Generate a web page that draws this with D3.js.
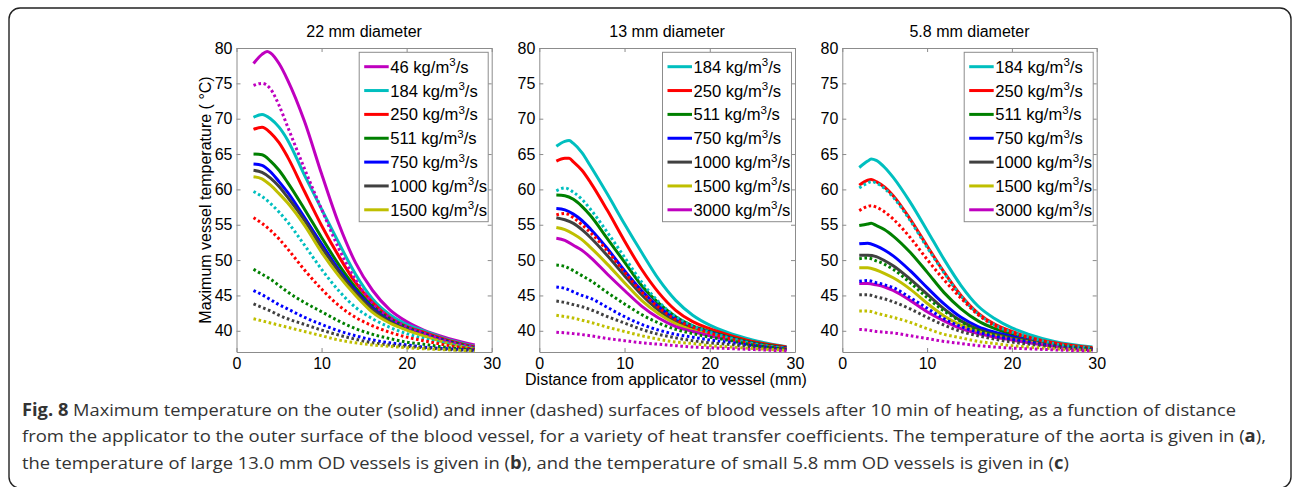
<!DOCTYPE html>
<html><head><meta charset="utf-8">
<script src="https://cdn.jsdelivr.net/npm/d3@7"></script>
<style>
body{margin:0;background:#fff}
svg{display:block}
</style>
</head><body>
<svg id="chart" width="1292" height="487"></svg>
<script>
// ---------- data ----------
const xTicks = [0, 10, 20, 30];
const yTicks = [40, 45, 50, 55, 60, 65, 70, 75, 80];
const panelTitles = ["22 mm diameter", "13 mm diameter", "5.8 mm diameter"];
const xLabel = "Distance from applicator to vessel (mm)";
const yLabel = "Maximum vessel temperature ( °C)";
const rates1 = ["46", "184", "250", "511", "750", "1000", "1500"];
const rates23 = ["184", "250", "511", "750", "1000", "1500", "3000"];

// Panel a (22 mm): outer surface (solid), order as rates1
const p1Outer = [
  [[2,77.8],[3,79.1],[3.6,79.5],[4,79.3],[5,77.8],[6,75.5],[8,69.6],[10,62.2],[12,55.2],[14,49.6],[16,45.7],[18,43.0],[20,41.3],[22,40.1],[25,38.9],[28,38.0]],
  [[2,70.2],[3,70.6],[4,70.0],[5,68.8],[6,67.0],[8,62.0],[10,57.2],[12,52.5],[14,48.0],[16,44.5],[18,42.3],[20,40.9],[22,40.0],[25,38.7],[28,37.8]],
  [[2,68.5],[3,68.8],[4,68.0],[5,66.6],[6,64.6],[8,59.7],[10,54.9],[12,50.6],[14,46.8],[16,44.0],[18,41.9],[20,40.6],[22,39.8],[25,38.6],[28,37.7]],
  [[2,65.0],[3,64.9],[4,64.0],[5,62.7],[6,61.0],[8,57.2],[10,53.2],[12,49.4],[14,46.1],[16,43.5],[18,41.7],[20,40.5],[22,39.6],[25,38.5],[28,37.6]],
  [[2,63.6],[3,63.4],[4,62.5],[5,61.1],[6,59.6],[8,56.0],[10,52.3],[12,48.7],[14,45.7],[16,43.2],[18,41.4],[20,40.3],[22,39.5],[25,38.4],[28,37.55]],
  [[2,62.7],[3,62.4],[4,61.6],[5,60.4],[6,58.9],[8,55.6],[10,51.8],[12,48.4],[14,45.4],[16,43.0],[18,41.3],[20,40.2],[22,39.4],[25,38.3],[28,37.5]],
  [[2,61.8],[3,61.5],[4,60.6],[5,59.4],[6,58.1],[8,54.9],[10,51.1],[12,47.8],[14,45.0],[16,42.6],[18,41.1],[20,40.1],[22,39.3],[25,38.2],[28,37.45]]
];
// Panel a: inner surface (dashed)
const p1Inner = [
  [[2,74.7],[3,75.0],[4,74.2],[5,71.9],[6,68.9],[8,62.9],[10,57.2],[12,51.7],[14,47.2],[16,43.9],[18,41.9],[20,40.6],[22,39.7],[25,38.5],[28,37.7]],
  [[2,59.7],[3,59.0],[4,58.0],[5,56.8],[6,55.4],[8,52.1],[10,48.7],[12,45.7],[14,43.3],[16,41.7],[18,40.5],[20,39.6],[22,38.9],[25,38.1],[28,37.5]],
  [[2,56.0],[3,55.2],[4,54.2],[5,53.0],[6,51.6],[8,48.6],[10,45.9],[12,43.6],[14,41.9],[16,40.7],[18,39.8],[20,39.1],[22,38.6],[25,37.9],[28,37.4]],
  [[2,48.7],[3,48.0],[4,47.3],[5,46.4],[6,45.5],[8,44.0],[10,42.7],[12,41.4],[14,40.3],[16,39.5],[18,38.9],[20,38.4],[22,38.1],[25,37.6],[28,37.3]],
  [[2,45.7],[3,45.1],[4,44.4],[5,43.7],[6,43.1],[8,41.9],[10,40.9],[12,40.0],[14,39.3],[16,38.7],[18,38.3],[20,38.0],[22,37.7],[25,37.45],[28,37.25]],
  [[2,43.8],[3,43.3],[4,42.8],[5,42.2],[6,41.7],[8,40.9],[10,40.1],[12,39.4],[14,38.8],[16,38.3],[18,38.0],[20,37.8],[22,37.6],[25,37.35],[28,37.2]],
  [[2,41.7],[3,41.4],[4,41.1],[5,40.8],[6,40.5],[8,39.9],[10,39.3],[12,38.7],[14,38.3],[16,38.0],[18,37.8],[20,37.6],[22,37.45],[25,37.3],[28,37.15]]
];

// Panel b (13 mm): order as rates23
const p2Outer = [
  [[2,66.1],[3,66.8],[3.5,66.9],[4,66.5],[5,65.2],[6,63.3],[8,59.3],[10,55.1],[12,51.1],[14,47.3],[16,44.3],[18,42.2],[20,40.8],[22,39.8],[25,38.7],[29,37.75]],
  [[2,64.0],[3,64.4],[3.5,64.4],[4,63.9],[5,62.7],[6,61.0],[8,57.0],[10,52.7],[12,48.7],[14,45.4],[16,42.9],[18,41.3],[20,40.3],[22,39.5],[25,38.5],[29,37.7]],
  [[2,59.2],[3,59.1],[4,58.6],[5,57.6],[6,56.3],[8,53.0],[10,49.7],[12,46.4],[14,43.9],[16,42.0],[18,40.7],[20,39.9],[22,39.2],[25,38.3],[29,37.6]],
  [[2,57.3],[3,57.1],[4,56.5],[5,55.6],[6,54.4],[8,51.6],[10,48.5],[12,45.7],[14,43.4],[16,41.7],[18,40.5],[20,39.8],[22,39.1],[25,38.2],[29,37.55]],
  [[2,56.0],[3,55.7],[4,55.2],[5,54.3],[6,53.2],[8,50.6],[10,47.8],[12,45.1],[14,42.9],[16,41.3],[18,40.3],[20,39.6],[22,39.0],[25,38.15],[29,37.5]],
  [[2,54.6],[3,54.3],[4,53.7],[5,52.9],[6,51.8],[8,49.4],[10,46.8],[12,44.3],[14,42.4],[16,41.0],[18,40.1],[20,39.5],[22,38.9],[25,38.1],[29,37.45]],
  [[2,53.1],[3,52.8],[4,52.1],[5,51.4],[6,50.4],[8,48.0],[10,45.7],[12,43.5],[14,41.8],[16,40.6],[18,39.9],[20,39.3],[22,38.8],[25,38.0],[29,37.4]]
];
const p2Inner = [
  [[2,59.8],[3,60.2],[4,59.6],[5,58.6],[6,57.2],[8,53.9],[10,50.4],[12,46.9],[14,44.1],[16,42.0],[18,40.7],[20,39.8],[22,39.1],[25,38.2],[29,37.5]],
  [[2,56.4],[3,56.6],[4,56.0],[5,55.0],[6,53.9],[8,51.3],[10,48.3],[12,45.5],[14,43.3],[16,41.6],[18,40.5],[20,39.7],[22,39.0],[25,38.1],[29,37.45]],
  [[2,49.3],[3,49.1],[4,48.5],[5,47.8],[6,47.1],[8,45.4],[10,43.8],[12,42.3],[14,41.1],[16,40.2],[18,39.6],[20,39.1],[22,38.7],[25,38.0],[29,37.4]],
  [[2,46.2],[3,46.0],[4,45.5],[5,45.0],[6,44.6],[8,43.3],[10,42.0],[12,40.9],[14,40.1],[16,39.5],[18,39.1],[20,38.7],[22,38.4],[25,37.9],[29,37.35]],
  [[2,44.2],[3,44.0],[4,43.7],[5,43.4],[6,43.0],[8,42.0],[10,41.1],[12,40.2],[14,39.5],[16,39.0],[18,38.6],[20,38.3],[22,38.1],[25,37.7],[29,37.3]],
  [[2,42.2],[3,42.0],[4,41.8],[5,41.5],[6,41.2],[8,40.5],[10,39.9],[12,39.3],[14,38.8],[16,38.4],[18,38.2],[20,37.9],[22,37.75],[25,37.5],[29,37.25]],
  [[2,39.8],[4,39.6],[6,39.3],[8,38.9],[10,38.6],[12,38.3],[14,38.1],[16,37.9],[18,37.7],[20,37.6],[22,37.5],[25,37.35],[29,37.15]]
];

// Panel c (5.8 mm): order as rates23
const p3Outer = [
  [[2,63.1],[3,64.0],[3.4,64.3],[4,64.1],[5,63.1],[6,61.7],[8,58.2],[10,54.2],[12,50.1],[14,46.4],[16,43.5],[18,41.7],[20,40.4],[22,39.5],[25,38.5],[29.5,37.7]],
  [[2,60.6],[3,61.3],[3.4,61.4],[4,61.1],[5,60.3],[6,59.1],[8,55.8],[10,52.0],[12,48.3],[14,45.0],[16,42.5],[18,40.9],[20,39.9],[22,39.1],[25,38.3],[29.5,37.6]],
  [[2,54.9],[3,55.1],[3.4,55.2],[4,54.9],[5,54.3],[6,53.4],[8,51.1],[10,48.3],[12,45.4],[14,43.1],[16,41.4],[18,40.3],[20,39.5],[22,38.9],[25,38.1],[29.5,37.5]],
  [[2,52.3],[3,52.4],[4,52.0],[5,51.4],[6,50.6],[8,48.5],[10,46.1],[12,43.8],[14,41.9],[16,40.6],[18,39.8],[20,39.2],[22,38.7],[25,38.0],[29.5,37.45]],
  [[2,50.7],[3,50.7],[4,50.5],[5,49.9],[6,49.2],[8,47.3],[10,45.2],[12,43.1],[14,41.4],[16,40.2],[18,39.5],[20,39.0],[22,38.6],[25,37.9],[29.5,37.4]],
  [[2,48.9],[3,48.9],[4,48.6],[5,48.1],[6,47.5],[8,45.9],[10,43.9],[12,42.1],[14,40.8],[16,39.9],[18,39.3],[20,38.8],[22,38.4],[25,37.8],[29.5,37.35]],
  [[2,46.7],[3,46.7],[4,46.5],[5,46.2],[6,45.7],[8,44.3],[10,42.7],[12,41.4],[14,40.3],[16,39.6],[18,39.1],[20,38.7],[22,38.3],[25,37.8],[29.5,37.3]]
];
const p3Inner = [
  [[2,60.2],[3,60.9],[3.4,61.1],[4,60.9],[5,60.1],[6,58.9],[8,55.6],[10,51.8],[12,48.2],[14,44.9],[16,42.4],[18,40.8],[20,39.8],[22,39.1],[25,38.2],[29.5,37.55]],
  [[2,57.0],[3,57.6],[3.4,57.7],[4,57.5],[5,56.8],[6,55.8],[8,53.2],[10,50.1],[12,47.2],[14,44.6],[16,42.3],[18,40.7],[20,39.7],[22,39.0],[25,38.2],[29.5,37.5]],
  [[2,50.2],[3,50.3],[4,49.9],[5,49.4],[6,48.7],[8,46.8],[10,44.7],[12,42.8],[14,41.3],[16,40.1],[18,39.4],[20,38.9],[22,38.5],[25,37.9],[29.5,37.4]],
  [[2,47.0],[3,47.1],[4,46.8],[5,46.5],[6,46.1],[8,44.7],[10,43.2],[12,41.7],[14,40.6],[16,39.8],[18,39.2],[20,38.8],[22,38.4],[25,37.8],[29.5,37.35]],
  [[2,45.1],[3,45.1],[4,44.8],[5,44.5],[6,44.1],[8,43.1],[10,41.9],[12,40.8],[14,39.9],[16,39.3],[18,38.8],[20,38.4],[22,38.1],[25,37.7],[29.5,37.3]],
  [[2,42.8],[3,42.8],[4,42.5],[5,42.2],[6,41.9],[8,41.2],[10,40.3],[12,39.5],[14,39.0],[16,38.5],[18,38.2],[20,37.9],[22,37.7],[25,37.45],[29.5,37.2]],
  [[2,40.2],[3,40.1],[4,39.9],[5,39.8],[6,39.7],[8,39.3],[10,38.9],[12,38.5],[14,38.2],[16,37.9],[18,37.7],[20,37.55],[22,37.45],[25,37.3],[29.5,37.15]]
];

const captionLines = [
  [["Fig. 8", true], [" Maximum temperature on the outer (solid) and inner (dashed) surfaces of blood vessels after 10 min of heating, as a function of distance", false]],
  [["from the applicator to the outer surface of the blood vessel, for a variety of heat transfer coefficients. The temperature of the aorta is given in (", false], ["a", true], ["),", false]],
  [["the temperature of large 13.0 mm OD vessels is given in (", false], ["b", true], ["), and the temperature of small 5.8 mm OD vessels is given in (", false], ["c", true], [")", false]]
];

// ---------- styles / layout ----------
const colorOf = {"46":"#bf00bf","184":"#00bfbf","250":"#ff0000","511":"#008000","750":"#0000ff","1000":"#404040","1500":"#bfbf00","3000":"#bf00bf"};
const panels = [
  {title: panelTitles[0], rates: rates1, outer: p1Outer, inner: p1Inner, left: 236.5, right: 491.7},
  {title: panelTitles[1], rates: rates23, outer: p2Outer, inner: p2Inner, left: 539.3, right: 795},
  {title: panelTitles[2], rates: rates23, outer: p3Outer, inner: p3Inner, left: 842.3, right: 1096.7}
];
const plotTop = 48, plotBottom = 352;
const axisColor = "#8c8c8c";
const font = '"Liberation Sans", Arial, sans-serif';

const svg = d3.select("#chart");

// frame (bottom edge runs just past the picture)
svg.append("rect").attr("x", 9).attr("y", 8).attr("width", 1282).attr("height", 480)
  .attr("rx", 11).attr("fill", "none").attr("stroke", "#222").attr("stroke-width", 1.4);

const yScale = d3.scaleLinear().domain([37, 80]).range([plotBottom, plotTop]);

panels.forEach(p => {
  const xScale = d3.scaleLinear().domain([0, 30]).range([p.left, p.right]);
  const g = svg.append("g");
  const line = d3.line().x(d => xScale(d[0])).y(d => yScale(d[1])).curve(d3.curveMonotoneX);

  g.append("rect").attr("x", p.left).attr("y", plotTop).attr("width", p.right - p.left)
    .attr("height", plotBottom - plotTop).attr("fill", "#fff");

  const ax = [
    g.append("g").attr("transform", `translate(0,${plotBottom})`).call(d3.axisBottom(xScale).tickValues(xTicks).tickSizeInner(-4).tickSizeOuter(0).tickPadding(6)),
    g.append("g").attr("transform", `translate(0,${plotTop})`).call(d3.axisTop(xScale).tickValues(xTicks).tickSizeInner(-4).tickSizeOuter(0).tickFormat("")),
    g.append("g").attr("transform", `translate(${p.left},0)`).call(d3.axisLeft(yScale).tickValues(yTicks).tickSizeInner(-4).tickSizeOuter(0).tickPadding(4)),
    g.append("g").attr("transform", `translate(${p.right},0)`).call(d3.axisRight(yScale).tickValues(yTicks).tickSizeInner(-4).tickSizeOuter(0).tickFormat(""))
  ];
  ax.forEach(a => {
    a.selectAll("path.domain").attr("stroke", axisColor);
    a.selectAll(".tick line").attr("stroke", axisColor);
    a.selectAll(".tick text").attr("fill", "#000").style("font-family", font).style("font-size", "16px");
  });

  // curves: solids first, then dotted
  p.outer.forEach((s, i) => {
    g.append("path").datum(s).attr("d", line).attr("fill", "none")
      .attr("stroke", colorOf[p.rates[i]]).attr("stroke-width", 3).attr("stroke-linejoin", "round");
  });
  p.inner.forEach((s, i) => {
    g.append("path").datum(s).attr("d", line).attr("fill", "none")
      .attr("stroke", colorOf[p.rates[i]]).attr("stroke-width", 3)
      .attr("stroke-dasharray", "2.6,2.6");
  });

  // title
  g.append("text").attr("x", (p.left + p.right) / 2).attr("y", 37).attr("text-anchor", "middle")
    .style("font-family", font).style("font-size", "16px").text(p.title);

  // legend
  const lw = 129, lx = p.right - 3.5 - lw, ly = 52.3, lh = 169.4;
  const lg = g.append("g");
  lg.append("rect").attr("x", lx).attr("y", ly).attr("width", lw).attr("height", lh)
    .attr("fill", "#fff").attr("stroke", axisColor).attr("stroke-width", 1);
  p.rates.forEach((r, i) => {
    const cy = 66.7 + i * 23.85;
    lg.append("line").attr("x1", lx + 5).attr("x2", lx + 29.5).attr("y1", cy).attr("y2", cy)
      .attr("stroke", colorOf[r]).attr("stroke-width", 3);
    const t = lg.append("text").attr("x", lx + 31).attr("y", cy + 6)
      .style("font-family", font).style("font-size", "16.6px");
    t.append("tspan").text(r + " kg/m");
    t.append("tspan").attr("dy", -6.5).style("font-size", "11.5px").text("3");
    t.append("tspan").attr("dy", 6.5).text("/s");
  });
});

// axis labels
svg.append("text").attr("transform", "translate(211,200) rotate(-90)").attr("text-anchor", "middle")
  .style("font-family", font).style("font-size", "16px").text(yLabel);
svg.append("text").attr("x", 666).attr("y", 385).attr("text-anchor", "middle")
  .style("font-family", font).style("font-size", "16px").text(xLabel);

// caption
const capY = [415.5, 442, 468.5];
const capW = [1214, 1244];
const capNodes = captionLines.map((parts, i) => {
  const t = svg.append("text").attr("x", 22).attr("y", capY[i])
    .style("font-family", '"Open Sans", sans-serif').style("font-size", "17px").style("fill", "#333");
  parts.forEach(([s, b]) => {
    t.append("tspan").style("font-weight", b ? "700" : "400").text(s);
  });
  return t;
});
// fit lines 1-2 to their measured widths; give line 3 the same horizontal scale
const nat = capNodes.map(t => t.node().getComputedTextLength());
const k = (capW[0] / nat[0] + capW[1] / nat[1]) / 2;
capNodes.forEach((t, i) => {
  const w = i < 2 ? capW[i] : nat[i] * k;
  t.attr("textLength", w).attr("lengthAdjust", "spacingAndGlyphs");
});
</script>
</body></html>
